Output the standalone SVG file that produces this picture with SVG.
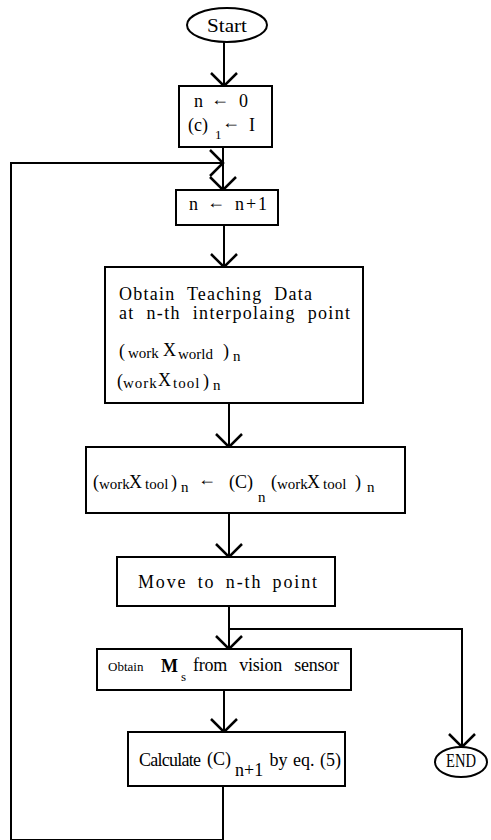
<svg xmlns="http://www.w3.org/2000/svg" width="491" height="840" viewBox="0 0 491 840">
<style>
.b{fill:#fff;stroke:#000;stroke-width:2}
.t{font-family:"Liberation Serif","Times New Roman",serif;fill:#000;font-size:18px}
.s{font-size:15px}
.m{font-size:13px}
.c{fill:none;stroke:#000;stroke-width:2}
</style>
<defs>
<marker id="chev" markerUnits="userSpaceOnUse" viewBox="-16 -16 18 32" refX="0" refY="0" markerWidth="18" markerHeight="32" orient="auto">
<path d="M-13,-13 L0,0 L-13,13" fill="none" stroke="#000" stroke-width="2.5"/>
</marker>
</defs>
<rect width="491" height="840" fill="#fff"/>
<g id="connectors">
<path class="c" d="M224,42 V86" marker-end="url(#chev)"/>
<path class="c" d="M223,147 V190" marker-end="url(#chev)"/>
<path class="c" d="M223,786 V840 H11 V163 H223" marker-end="url(#chev)"/>
<path class="c" d="M224,225 V267" marker-end="url(#chev)"/>
<path class="c" d="M229,403 V447" marker-end="url(#chev)"/>
<path class="c" d="M229,513 V557" marker-end="url(#chev)"/>
<path class="c" d="M229,606 V649" marker-end="url(#chev)"/>
<path class="c" d="M229,629 H462 V747" marker-end="url(#chev)"/>
<path class="c" d="M224,690 V732" marker-end="url(#chev)"/>
</g>
<g id="start">
<ellipse class="b" cx="227" cy="25" rx="40" ry="17"/>
<text class="t" x="227" y="32" text-anchor="middle" font-size="19" textLength="40" lengthAdjust="spacingAndGlyphs">Start</text>
</g>
<g id="init">
<rect class="b" x="179" y="86" width="93" height="61"/>
<text class="t" x="194" y="107">n</text>
<text class="t" x="211" y="105" font-size="15">←</text>
<text class="t" x="239" y="107">0</text>
<text class="t" x="188" y="131">(c)</text>
<text class="t m" x="215" y="139">1</text>
<text class="t" x="222" y="128" font-size="15">←</text>
<text class="t" x="249" y="131">I</text>
</g>
<g id="increment">
<rect class="b" x="176" y="190" width="102" height="35"/>
<text class="t" x="189" y="210">n</text>
<text class="t" x="207" y="208" font-size="15">←</text>
<text class="t" x="235" y="210" textLength="32">n+1</text>
</g>
<g id="teaching">
<rect class="b" x="105" y="267" width="258" height="136"/>
<text class="t" x="119" y="300" font-size="19" word-spacing="6" textLength="193" lengthAdjust="spacing">Obtain Teaching Data</text>
<text class="t" x="119" y="319" font-size="19" word-spacing="6" textLength="231" lengthAdjust="spacing">at n-th interpolaing point</text>
<text class="t" x="119" y="357">(</text>
<text class="t s" x="128" y="358">work</text>
<text class="t" x="163" y="356" font-size="20">X</text>
<text class="t s" x="178" y="359">world</text>
<text class="t" x="223" y="357">)</text>
<text class="t s" x="233" y="361">n</text>
<text class="t" x="117" y="387">(</text>
<text class="t s" x="123" y="388" letter-spacing="1">work</text>
<text class="t" x="158" y="386" font-size="20">X</text>
<text class="t s" x="173" y="388" letter-spacing="1">tool</text>
<text class="t" x="203" y="387">)</text>
<text class="t s" x="213" y="390">n</text>
</g>
<g id="transform">
<rect class="b" x="86" y="447" width="319" height="66"/>
<text class="t" x="93" y="488">(</text>
<text class="t s" x="99" y="489">work</text>
<text class="t" x="129" y="488" font-size="20">X</text>
<text class="t s" x="145" y="489">tool</text>
<text class="t" x="171" y="488">)</text>
<text class="t s" x="181" y="492">n</text>
<text class="t" x="198" y="485" font-size="15">←</text>
<text class="t" x="229" y="488">(C)</text>
<text class="t s" x="258" y="502">n</text>
<text class="t" x="271" y="488">(</text>
<text class="t s" x="277" y="489">work</text>
<text class="t" x="307" y="488" font-size="20">X</text>
<text class="t s" x="323" y="489">tool</text>
<text class="t" x="355" y="488">)</text>
<text class="t s" x="367" y="492">n</text>
</g>
<g id="move">
<rect class="b" x="117" y="557" width="218" height="49"/>
<text class="t" x="138" y="588" font-size="19" word-spacing="4" textLength="179" lengthAdjust="spacing">Move to n-th point</text>
</g>
<g id="vision">
<rect class="b" x="97" y="649" width="254" height="41"/>
<text class="t m" x="108" y="671">Obtain</text>
<text class="t" x="161" y="672" font-size="20" font-weight="bold">M</text>
<text class="t m" x="181" y="681">s</text>
<text class="t" x="193" y="671" font-size="14" word-spacing="8" textLength="146" lengthAdjust="spacing">from vision sensor</text>
</g>
<g id="calculate">
<rect class="b" x="128" y="732" width="217" height="54"/>
<text class="t" x="139" y="766" font-size="14" textLength="62" lengthAdjust="spacing">Calculate</text>
<text class="t" x="207" y="765">(C)</text>
<text class="t" x="235" y="776" font-size="13">n+1</text>
<text class="t" x="341" y="766" font-size="12.5" word-spacing="1" text-anchor="end">by eq. (5)</text>
</g>
<g id="end">
<ellipse class="b" cx="461" cy="762" rx="26" ry="15"/>
<text class="t" x="461" y="767" text-anchor="middle" font-size="14" textLength="30" lengthAdjust="spacingAndGlyphs">END</text>
</g>
</svg>
